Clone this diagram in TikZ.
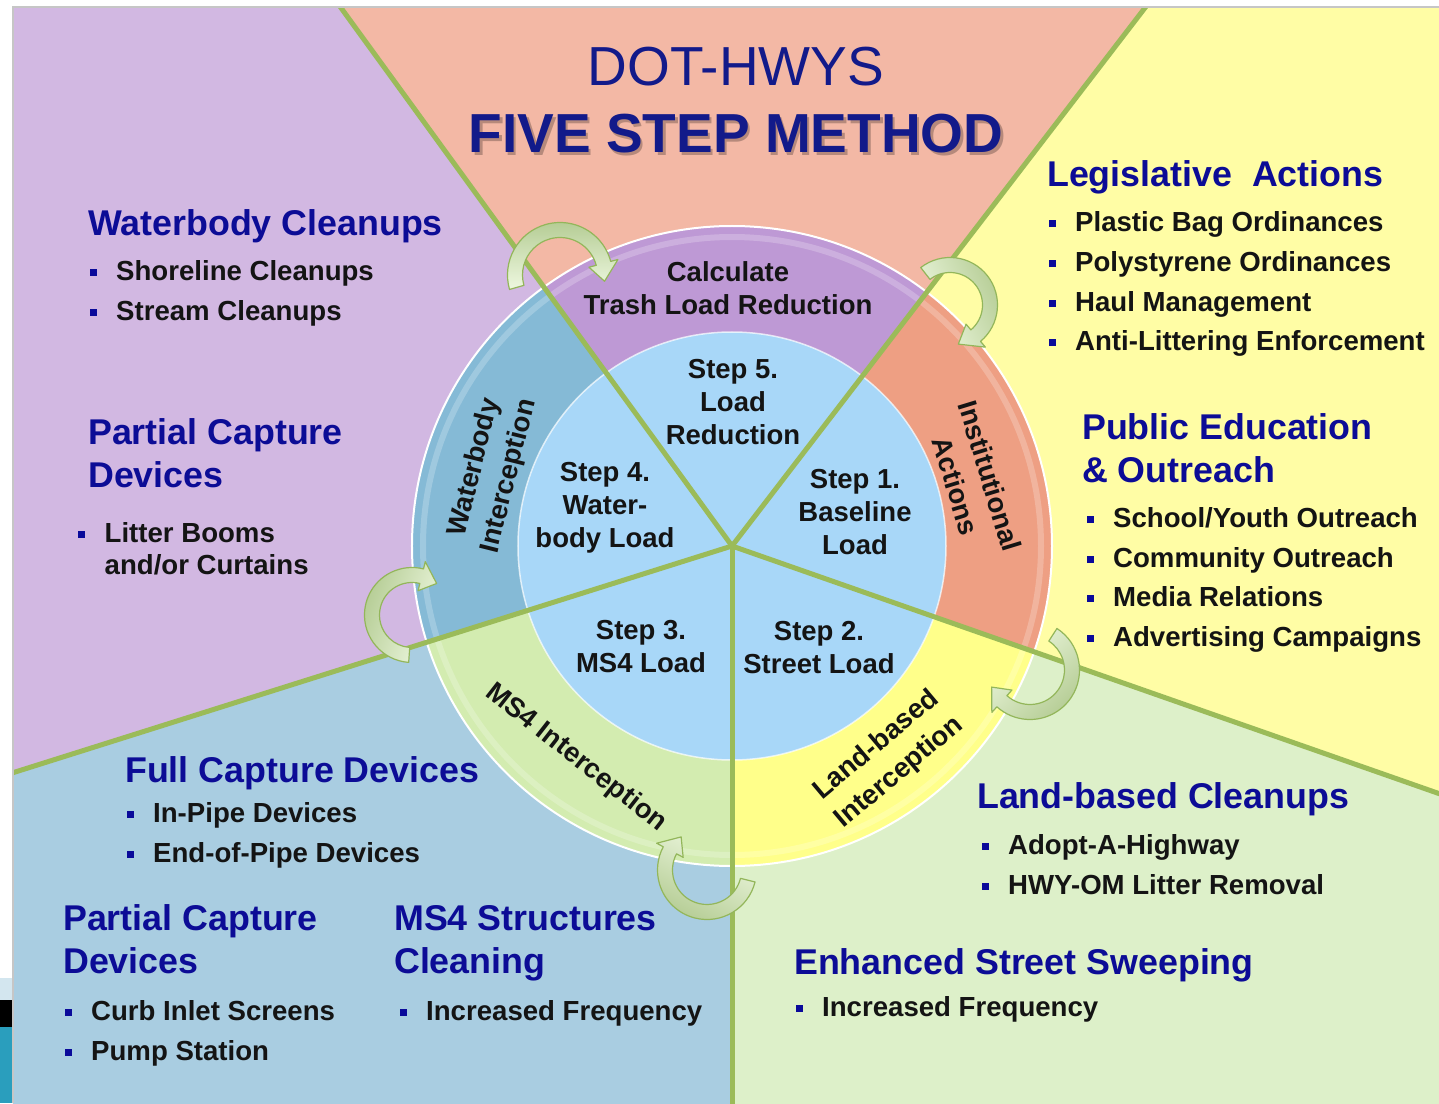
\documentclass[tikz,border=0pt]{standalone}
\usepackage{fontspec}
\setmainfont{Liberation Sans}
\definecolor{bgLav}{HTML}{D2B8E2}
\definecolor{bgSal}{HTML}{F3B8A5}
\definecolor{bgYel}{HTML}{FFFDA5}
\definecolor{bgGrn}{HTML}{DDF0C9}
\definecolor{bgBlu}{HTML}{A9CDE1}
\definecolor{rPur}{HTML}{BE99D5}
\definecolor{rOra}{HTML}{EE9F83}
\definecolor{rYel}{HTML}{FFFF8A}
\definecolor{rGrn}{HTML}{D3ECB0}
\definecolor{rBlu}{HTML}{85BAD6}
\definecolor{innerc}{HTML}{A8D7F8}
\definecolor{lineg}{HTML}{9BBB59}
\definecolor{arrtail}{HTML}{B3CB92}
\definecolor{arrhead}{HTML}{EEF8E0}
\definecolor{arrd}{HTML}{93B65A}
\definecolor{headc}{HTML}{0C0C96}
\definecolor{titlec}{HTML}{121A8A}
\definecolor{txtc}{HTML}{141414}
\definecolor{bulc}{HTML}{0A0A9A}
\definecolor{decoblue}{HTML}{D3E6EF}
\definecolor{decoteal}{HTML}{2A9EBD}
\newcommand{\bl}{\textcolor{bulc}{\rule[4.5pt]{7pt}{7pt}}\hspace{19.5pt}}
\newcommand{\bentarrow}[7]{%
  \pgfmathsetmacro{\arRo}{#3+7.5}%
  \pgfmathsetmacro{\arRi}{#3-7.5}%
  \pgfmathsetmacro{\arHo}{#3+15}%
  \pgfmathsetmacro{\arHi}{#3-15}%
  \begin{scope}[shift={(#1,#2)}]
    \path[swoosh, shading angle=#7] (#4:\arRo) arc[start angle=#4, end angle=#5, radius=\arRo pt]
      -- (#5:\arHo) -- (#6:#3) -- (#5:\arHi) -- (#5:\arRi)
      arc[start angle=#5, end angle=#4, radius=\arRi pt] -- cycle;
  \end{scope}}
\begin{document}
\begin{tikzpicture}[x=1pt,y=1pt,
  hd/.style={anchor=base west, inner sep=0pt, text=headc, font=\fontsize{35.8}{43}\selectfont\bfseries},
  bt/.style={anchor=base west, inner sep=0pt, text=txtc, font=\fontsize{27.6}{33}\selectfont\bfseries},
  ctr/.style={align=center, inner sep=0pt, text=txtc, font=\fontsize{27.5}{33}\selectfont\bfseries},
  rtx/.style={align=center, inner sep=0pt, text=txtc, font=\fontsize{27.5}{35.5}\selectfont\bfseries},
  divline/.style={draw=lineg, line width=5pt, line cap=round},
  swoosh/.style={draw=arrd, line width=1.2pt, line join=round, left color=arrtail, right color=arrhead}]

\useasboundingbox (-732,-557) rectangle (707,546);
\fill[white] (-732,-557) rectangle (707,546);
% slide decoration at the bottom left
\fill[decoblue] (-732,-432) rectangle (-719,-454);
\fill[black] (-732,-454) rectangle (-719,-481);
\fill[decoteal] (-732,-481) rectangle (-719,-557);

\begin{scope}
  \clip (-719,539) rectangle (707,-557);
  % background sectors
  \fill[bgSal] (0,0) -- (126:2000) -- (89.25:2000) -- (52.5:2000) -- cycle;
  \fill[bgYel] (0,0) -- (52.5:2000) -- (16.6:2000) -- (-19.3:2000) -- cycle;
  \fill[bgGrn] (0,0) -- (-19.3:2000) -- (-54.65:2000) -- (-90:2000) -- cycle;
  \fill[bgBlu] (0,0) -- (-90:2000) -- (-126.25:2000) -- (-162.5:2000) -- cycle;
  \fill[bgLav] (0,0) -- (197.5:2000) -- (161.75:2000) -- (126:2000) -- cycle;
  % ring
  \fill[rPur] (0,0) -- (126:320) arc[start angle=126, end angle=52.5, radius=320pt] -- cycle;
  \fill[rOra] (0,0) -- (52.5:320) arc[start angle=52.5, end angle=-19.3, radius=320pt] -- cycle;
  \fill[rYel] (0,0) -- (-19.3:320) arc[start angle=-19.3, end angle=-90, radius=320pt] -- cycle;
  \fill[rGrn] (0,0) -- (-90:320) arc[start angle=-90, end angle=-162.5, radius=320pt] -- cycle;
  \fill[rBlu] (0,0) -- (197.5:320) arc[start angle=197.5, end angle=126, radius=320pt] -- cycle;
  \draw[white, opacity=.22, line width=6pt] (0,0) circle[radius=309pt];
  \draw[white, line width=2pt] (0,0) circle[radius=320pt];
  \fill[innerc] (0,0) circle[radius=214pt];
  \draw[white, opacity=.7, line width=1.5pt] (0,0) circle[radius=214pt];
  % dividing lines
  \coordinate (c) at (0,0);
  \coordinate (e1) at (126:1000);
  \coordinate (e2) at (52.5:1000);
  \coordinate (e3) at (-19.3:1000);
  \coordinate (e4) at (-90:1000);
  \coordinate (e5) at (197.5:1000);
  \draw[divline] (c) -- (e1);
  \draw[divline] (c) -- (e2);
  \draw[divline] (c) -- (e3);
  \draw[divline] (c) -- (e4);
  \draw[divline] (c) -- (e5);
\end{scope}
\draw[gray!45, line width=1.2pt] (-719,-557) -- (-719,539) -- (707,539);

% ring texts
\node[rtx, rotate=76] (rt1) at (-240,74) {Waterbody\\Interception};
\node[rtx, rotate=-73] (rt2) at (241,65) {Institutional\\Actions};
\node[rtx, rotate=-38] (rt3) at (-156,-212) {MS4 Interception};
\node[rtx, rotate=40] (rt4) at (156,-213) {Land-based\\Interception};

% curved arrows (clockwise flow)
\bentarrow{-172}{271}{45}{196}{15}{-8}{0}
\bentarrow{218}{241}{40}{128}{-50}{-78}{-66}
\bentarrow{298}{-124}{42}{57}{-132}{-156}{-138}
\bentarrow{-25}{-324}{42}{-14}{-208}{-232}{153}
\bentarrow{-320}{-69}{40}{266}{76}{52}{70}

\begin{scope}[shift={(-732,546)}, y=-1pt]
  % title
  \node[anchor=base, inner sep=0pt, text=titlec, font=\fontsize{55}{60}\selectfont] (t1) at (736,86) {DOT-HWYS};
  \node[anchor=base, inner sep=0pt, text=black, opacity=.25, font=\fontsize{55}{60}\selectfont\bfseries] (t2s) at (738.5,155.5) {FIVE STEP METHOD};
  \node[anchor=base, inner sep=0pt, text=titlec, font=\fontsize{55}{60}\selectfont\bfseries] (t2) at (736,153) {FIVE STEP METHOD};

  % center texts
  \node[ctr] (s0) at (728,288.5) {Calculate\\Trash Load Reduction};
  \node[ctr] (s5) at (733,402) {Step 5.\\Load\\Reduction};
  \node[ctr] (s4) at (605,508) {Step 4.\\Water-\\body Load};
  \node[ctr] (s1) at (855,512.5) {Step 1.\\Baseline\\Load};
  \node[ctr] (s3) at (641,646.5) {Step 3.\\MS4 Load};
  \node[ctr] (s2) at (819,647.5) {Step 2.\\Street Load};

  % upper left
  \node[hd] (h1) at (88,236) {Waterbody Cleanups};
  \node[bt] (b1) at (89.5,281) {\bl Shoreline Cleanups};
  \node[bt] (b2) at (89.5,321) {\bl Stream Cleanups};
  \node[hd] (h2) at (88,444) {Partial Capture};
  \node[hd] (h3) at (88,487) {Devices};
  \node[bt] (b3) at (78,542) {\bl Litter Booms};
  \node[bt] (b4) at (104.5,574) {and/or Curtains};

  % lower left
  \node[hd] (h4) at (125,782) {Full Capture Devices};
  \node[bt] (b5) at (126.5,822) {\bl In-Pipe Devices};
  \node[bt] (b6) at (126.5,862) {\bl End-of-Pipe Devices};
  \node[hd] (h5) at (63,930) {Partial Capture};
  \node[hd] (h6) at (63,973) {Devices};
  \node[bt] (b7) at (64.5,1020) {\bl Curb Inlet Screens};
  \node[bt] (b8) at (64.5,1060) {\bl Pump Station};
  \node[hd] (h7) at (394,930) {MS4 Structures};
  \node[hd] (h8) at (394,973) {Cleaning};
  \node[bt] (b9) at (399.5,1020) {\bl Increased Frequency};

  % upper right
  \node[hd] (h9) at (1047,187) {Legislative~~Actions};
  \node[bt] (b10) at (1048.5,232) {\bl Plastic Bag Ordinances};
  \node[bt] (b11) at (1048.5,272) {\bl Polystyrene Ordinances};
  \node[bt] (b12) at (1048.5,312) {\bl Haul Management};
  \node[bt] (b13) at (1048.5,351) {\bl Anti-Littering Enforcement};
  \node[hd] (h10) at (1082,439) {Public Education};
  \node[hd] (h11) at (1082,482) {\& Outreach};
  \node[bt] (b14) at (1086.5,527) {\bl School/Youth Outreach};
  \node[bt] (b15) at (1086.5,567) {\bl Community Outreach};
  \node[bt] (b16) at (1086.5,606) {\bl Media Relations};
  \node[bt] (b17) at (1086.5,646) {\bl Advertising Campaigns};

  % lower right
  \node[hd] (h12) at (977,808) {Land-based Cleanups};
  \node[bt] (b18) at (981.5,854) {\bl Adopt-A-Highway};
  \node[bt] (b19) at (981.5,894) {\bl HWY-OM Litter Removal};
  \node[hd] (h13) at (794,974) {Enhanced Street Sweeping};
  \node[bt] (b20) at (795.5,1016) {\bl Increased Frequency};
\end{scope}
\end{tikzpicture}
\end{document}
